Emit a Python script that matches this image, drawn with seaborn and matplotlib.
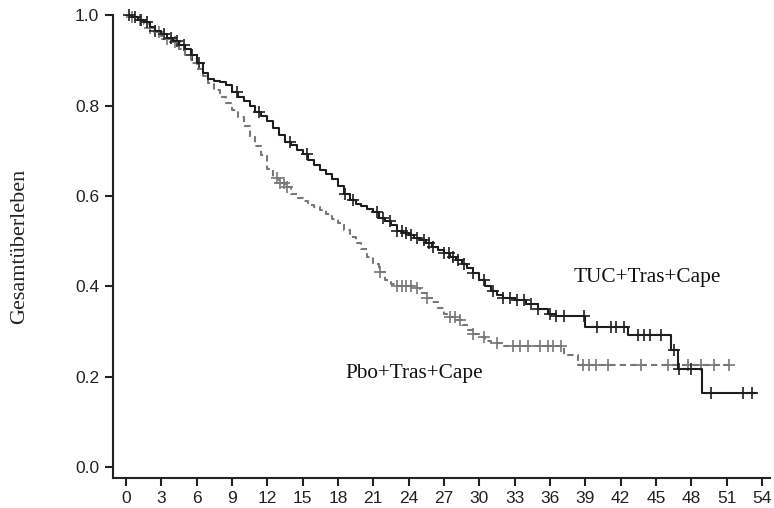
import numpy as np
import pandas as pd
import seaborn as sns
import matplotlib.pyplot as plt

# Kaplan-Meier Schätzungen (Monate, Überlebensanteil)
tuc_t = [0, 0.5, 1, 1.5, 2, 2.5, 3, 3.5, 4, 4.5, 5, 5.5, 6, 6.5, 7, 7.5, 8, 8.5, 9, 9.5,
         10, 10.5, 11, 11.5, 12, 12.5, 13, 13.5, 14, 14.5, 15, 15.5, 16, 16.5, 17, 17.5,
         18, 18.5, 19, 19.5, 20, 20.5, 21, 21.5, 22, 22.5, 23, 23.5, 24, 24.5, 25, 25.5,
         26, 26.5, 27, 27.5, 28, 28.5, 29, 29.5, 30, 30.5, 31, 31.5, 32, 33, 34, 35, 35.8,
         36.5, 39.0, 42.6, 46.3, 46.9, 48.9, 53.5]
tuc_s = [1.0, 0.995, 0.99, 0.985, 0.975, 0.965, 0.958, 0.95, 0.943, 0.935, 0.925, 0.912,
         0.894, 0.872, 0.86, 0.855, 0.852, 0.845, 0.83, 0.82, 0.81, 0.80, 0.787, 0.777,
         0.765, 0.75, 0.735, 0.72, 0.712, 0.702, 0.692, 0.68, 0.668, 0.658, 0.648, 0.637,
         0.622, 0.605, 0.592, 0.582, 0.577, 0.572, 0.565, 0.552, 0.545, 0.535, 0.523,
         0.518, 0.514, 0.508, 0.502, 0.495, 0.488, 0.48, 0.473, 0.466, 0.458, 0.45, 0.44,
         0.43, 0.415, 0.40, 0.39, 0.38, 0.375, 0.37, 0.36, 0.35, 0.34, 0.334, 0.31, 0.292,
         0.259, 0.217, 0.164, 0.164]
tuc_cens = [0.3, 0.8, 1.3, 1.8, 2.5, 3.2, 3.8, 4.3, 4.9, 5.6, 6.2, 9.4, 11.3, 13.9, 15.4,
            18.6, 19.3, 21.3, 21.8, 22.4, 23.0, 23.4, 23.8, 24.2, 24.7, 25.3, 25.7, 26.1,
            27.0, 27.4, 27.8, 28.2, 28.7, 29.5, 30.4, 31.2, 32.0, 32.6, 33.2, 33.8, 34.4,
            35.0, 36.0, 36.5, 37.2, 38.9, 40.0, 41.2, 41.6, 42.3, 43.5, 44.0, 44.5, 45.4,
            46.5, 47.0, 48.0, 49.7, 52.4, 53.2]

pbo_t = [0, 0.5, 1, 1.5, 2, 2.5, 3, 3.5, 4, 4.5, 5, 5.5, 6, 6.5, 7, 7.5, 8, 8.5, 9, 9.5,
         10, 10.5, 11, 11.5, 12, 12.5, 13, 13.5, 14, 14.5, 15, 15.5, 16, 16.5, 17, 17.5,
         18, 18.5, 19, 19.5, 20, 20.5, 21, 21.5, 22, 22.5, 23, 24.5, 25, 25.5, 26, 26.5,
         27, 27.5, 28, 28.5, 29, 29.5, 30, 30.5, 31, 32, 37.2, 38.4, 51.4]
pbo_s = [1.0, 0.995, 0.99, 0.98, 0.972, 0.963, 0.955, 0.948, 0.94, 0.925, 0.912, 0.895,
         0.88, 0.865, 0.85, 0.835, 0.82, 0.805, 0.79, 0.775, 0.755, 0.73, 0.71, 0.69, 0.66,
         0.64, 0.628, 0.62, 0.605, 0.595, 0.588, 0.58, 0.575, 0.568, 0.56, 0.55, 0.54,
         0.525, 0.51, 0.495, 0.482, 0.465, 0.45, 0.432, 0.415, 0.405, 0.40, 0.397, 0.385,
         0.375, 0.365, 0.352, 0.34, 0.332, 0.325, 0.315, 0.303, 0.295, 0.287, 0.28, 0.275,
         0.268, 0.248, 0.226, 0.226]
pbo_cens = [0.5, 1.2, 2.0, 2.8, 3.5, 4.2, 12.8, 13.1, 13.4, 13.7, 21.6, 23.0, 23.4, 23.8,
            24.2, 24.7, 25.6, 27.5, 27.9, 28.4, 29.5, 30.4, 31.5, 32.9, 33.5, 34.1, 35.2,
            35.8, 36.3, 36.9, 38.8, 39.3, 39.9, 40.9, 43.7, 46.0, 47.7, 48.8, 49.9, 51.2]

xticks = list(range(0, 55, 3))
yticks = [0.0, 0.2, 0.4, 0.6, 0.8, 1.0]


def at(t_steps, s_steps, times):
    idx = np.searchsorted(t_steps, times, side="right") - 1
    return np.asarray(s_steps)[idx]


sns.set_style("ticks")
plt.rcParams["font.family"] = ["Liberation Serif", "DejaVu Serif"]

fig = plt.figure(figsize=(7.74, 5.08), dpi=100)
ax = fig.add_axes([0.146, 0.059, 0.849, 0.911])

black = "#1e1e1e"
grey = "#777777"

tuc = pd.DataFrame({"t": tuc_t, "s": tuc_s})
pbo = pd.DataFrame({"t": pbo_t, "s": pbo_s})
sns.lineplot(data=pbo, x="t", y="s", ax=ax, drawstyle="steps-post", color=grey,
             linewidth=1.5, linestyle=(0, (3, 2)), estimator=None, sort=False)
sns.lineplot(data=tuc, x="t", y="s", ax=ax, drawstyle="steps-post", color=black,
             linewidth=1.5, estimator=None, sort=False)

pc = pd.DataFrame({"t": pbo_cens, "s": at(pbo_t, pbo_s, pbo_cens)})
tc = pd.DataFrame({"t": tuc_cens, "s": at(tuc_t, tuc_s, tuc_cens)})
sns.scatterplot(data=pc, x="t", y="s", ax=ax, marker="+", s=70, color=grey,
                linewidth=1.2, clip_on=False)
sns.scatterplot(data=tc, x="t", y="s", ax=ax, marker="+", s=70, color=black,
                linewidth=1.2, clip_on=False)

ax.text(38.0, 0.42, "TUC+Tras+Cape", fontsize=15.3, color="#111111", va="center")
ax.text(18.6, 0.208, "Pbo+Tras+Cape", fontsize=15.3, color="#111111", va="center")

ax.set_xlim(-1.1, 54.7)
ax.set_ylim(-0.024, 1.0)
ax.set_xticks(xticks)
ax.set_xticklabels([str(v) for v in xticks])
ax.set_yticks(yticks)
ax.set_yticklabels([f"{v:.1f}" for v in yticks])
for lab in ax.get_xticklabels() + ax.get_yticklabels():
    lab.set_family(["Liberation Sans Narrow", "Liberation Sans", "DejaVu Sans"])
    lab.set_fontsize(12.5)
    lab.set_color("#222222")
ax.tick_params(axis="x", length=6, width=1.5, color="#222222", pad=3)
ax.tick_params(axis="y", length=6, width=1.5, color="#222222", pad=4)
ax.set_xlabel("")
ax.set_ylabel("Gesamtüberleben", fontsize=16, color="#222222")
ax.yaxis.set_label_coords(-0.128, 0.5)
sns.despine(ax=ax)
for side in ("left", "bottom"):
    ax.spines[side].set_linewidth(1.5)
    ax.spines[side].set_color("#222222")

fig.savefig("out.png", dpi=100)
